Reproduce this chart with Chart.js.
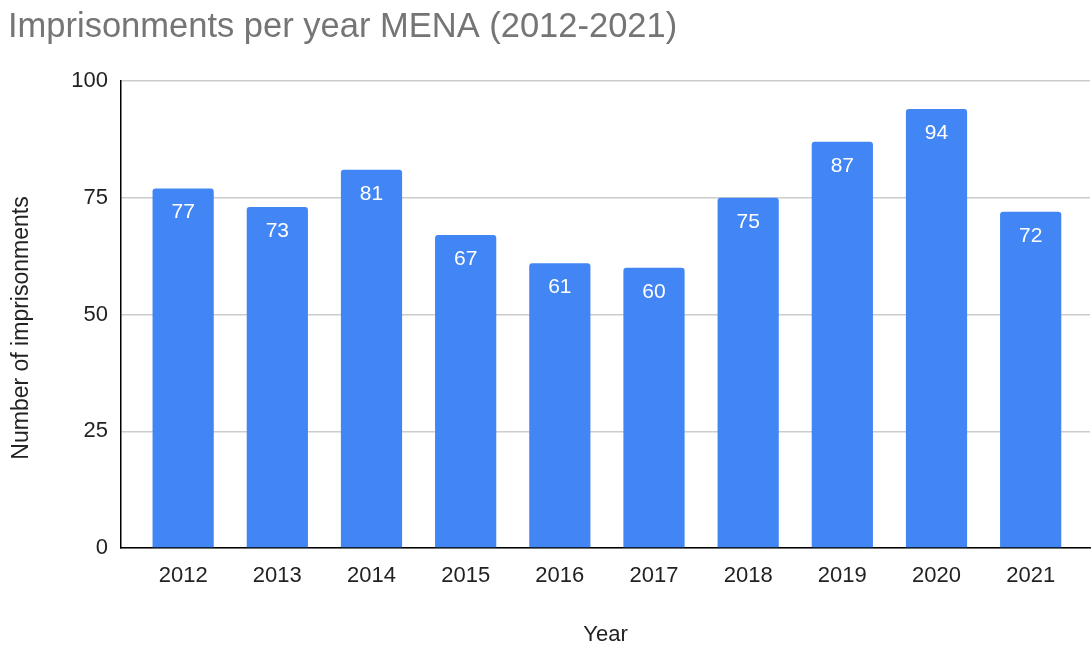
<!DOCTYPE html>
<html>
<head>
<meta charset="utf-8">
<script src="https://cdn.jsdelivr.net/npm/chart.js@4/dist/chart.umd.min.js"></script>
<style>
  html, body { margin: 0; padding: 0; background: #fff; }
  #wrap { width: 1091px; height: 649px; }
</style>
</head>
<body>
<div id="wrap"><canvas id="chart" width="1091" height="649"></canvas></div>
<script>
/* ---- data ---- */
const years = ['2012', '2013', '2014', '2015', '2016', '2017', '2018', '2019', '2020', '2021'];
const imprisonments = [77, 73, 81, 67, 61, 60, 75, 87, 94, 72];
const yTicks = [0, 25, 50, 75, 100];

const FONT = '"Liberation Sans", Arial, sans-serif';

// white value labels inside the top of each bar + vertical y title
const barLabels = {
  id: 'barLabels',
  afterDatasetsDraw(chart) {
    const ctx = chart.ctx;
    const meta = chart.getDatasetMeta(0);
    ctx.save();
    ctx.fillStyle = '#ffffff';
    ctx.font = '21px ' + FONT;
    ctx.textAlign = 'center';
    ctx.textBaseline = 'middle';
    meta.data.forEach((bar, i) => {
      ctx.fillText(String(imprisonments[i]), bar.x, bar.y + 24);
    });

    // y-axis title sits a bit below the plot centre in the original
    ctx.fillStyle = '#222';
    ctx.font = '23px ' + FONT;
    ctx.translate(22, 328);
    ctx.rotate(-Math.PI / 2);
    ctx.fillText('Number of imprisonments', 0, 0);
    ctx.restore();
  }
};

new Chart(document.getElementById('chart'), {
  type: 'bar',
  data: {
    datasets: [{
      // x = index into years, so the axis can keep the Sheets-style side gap
      data: imprisonments.map((v, i) => ({ x: i, y: v })),
      backgroundColor: '#4285f4',
      borderRadius: { topLeft: 3, topRight: 3 },
      borderSkipped: 'bottom',
      categoryPercentage: 1,
      barPercentage: 0.65,
    }],
  },
  options: {
    responsive: false,
    animation: false,
    layout: { padding: { left: 8, right: 1, top: 0, bottom: 0 } },
    plugins: {
      legend: { display: false },
      tooltip: { enabled: false },
      title: {
        display: true,
        text: 'Imprisonments per year MENA (2012-2021)',
        align: 'start',
        color: '#757575',
        font: { family: FONT, size: 34.5, weight: 'normal' },
        padding: { top: 7, bottom: 32.6 },
      },
    },
    scales: {
      x: {
        type: 'linear',
        offset: false,
        min: -0.66,
        max: 9.63,
        afterBuildTicks: s => { s.ticks = years.map((y, i) => ({ value: i })); },
        grid: { display: false, drawTicks: false },
        border: { color: '#000000', width: 1.5 },
        ticks: {
          color: '#222',
          font: { family: FONT, size: 22 },
          padding: 15,
          maxRotation: 0,
          autoSkip: false,
          callback: v => years[v],
        },
        title: {
          display: true,
          text: 'Year',
          color: '#222',
          font: { family: FONT, size: 22 },
          padding: { top: 0, bottom: 1 },
        },
        afterFit: s => { s.height = 101; },
      },
      y: {
        min: 0,
        max: 100,
        afterBuildTicks: s => { s.ticks = yTicks.map(v => ({ value: v })); },
        grid: { color: '#cccccc', lineWidth: 1.5, drawTicks: false },
        border: { color: '#000000', width: 1.5 },
        ticks: { color: '#222', font: { family: FONT, size: 22 }, padding: 13 },
        afterFit: s => { s.width = 113; },
      },
    },
  },
  plugins: [barLabels],
});
</script>
</body>
</html>
